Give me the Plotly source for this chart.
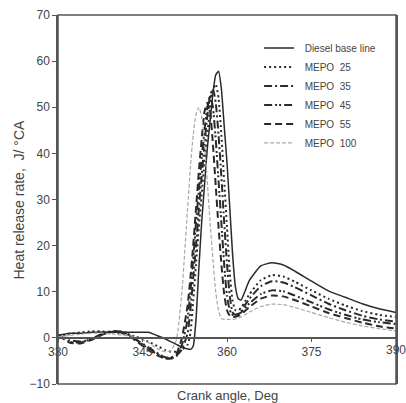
import plotly.graph_objects as go

crank_angle = [330, 332, 334, 336, 338, 340, 342, 344, 346, 348, 349, 350, 351, 352, 353, 353.5,
               354, 354.5, 355, 355.5, 356, 356.5, 357, 357.5, 358, 358.5, 359, 359.5, 360, 360.5,
               361, 361.5, 362, 362.5, 363, 364, 366, 368, 370, 372, 375, 378, 381, 384, 387, 390]

diesel = [0.5, 1.0, 1.0, 1.2, 1.3, 1.2, 1.2, 1.2, 1.2, 0.3, -0.2, -0.8, -1.4, -2.0, -2.4, -2.5,
          -1.8, 4, 15, 25, 33, 41, 47, 53, 57, 57.8, 54, 46, 38, 28,
          18, 11, 8.5, 8.2, 9.5, 12.5, 15.6, 16.3, 15.8, 14.5, 12.3, 10.2, 8.8, 7.4, 6.3, 5.5]

mepo25 = [0.3, 0.8, 1.2, 1.4, 1.4, 1.2, 0.8, 0.2, -0.8, -2.0, -2.6, -3.0, -3.0, -2.6, -1.5, 1,
          8, 16, 24, 31, 38, 44, 50, 54, 55, 52, 44, 34, 24, 14,
          8, 6, 6, 6.5, 7.5, 9.5, 12.5, 13.6, 13.3, 12.2, 10.3, 8.5, 7, 5.8, 5, 4.5]

mepo35 = [0.5, -0.5, -0.8, -0.3, 0.8, 1.4, 1.0, -0.5, -2.0, -3.6, -4.2, -4.3, -3.8, -2.5, 1, 6,
          13, 20, 28, 35, 42, 48, 52.5, 54, 51, 44, 35, 25, 16, 9,
          5.5, 5, 5.2, 5.8, 6.8, 8.5, 11.2, 12.3, 12, 11, 9.2, 7.4, 6, 4.8, 4, 3.5]

mepo45 = [0.8, -0.8, -1.0, -0.2, 1.0, 1.5, 1.2, -0.5, -2.3, -3.8, -4.4, -4.5, -4.0, -1.5, 4, 10,
          17, 25, 32, 39, 45, 50, 52.5, 50, 43, 34, 25, 16, 9, 6,
          5, 5, 5.2, 5.5, 6.2, 7.5, 9.5, 10.3, 10.1, 9.2, 7.7, 6.2, 5, 4, 3.4, 3]

mepo55 = [0.6, -1.0, -1.2, -0.4, 0.8, 1.4, 1.0, -0.8, -2.6, -4.0, -4.5, -4.4, -3.5, 0, 7, 13,
          20, 28, 36, 43, 49, 51, 49, 42, 33, 24, 16, 9.5, 6, 4.8,
          4.5, 4.6, 4.8, 5, 5.6, 6.7, 8.5, 9.2, 9, 8.2, 6.8, 5.4, 4.3, 3.3, 2.5, 2]

mepo100 = [0.2, 0.5, 0.8, 1.0, 1.0, 0.8, 0.5, 0.2, -1.0, -2.6, -3.0, -2.8, -0.5, 10, 28, 37,
           44, 48.5, 50, 48, 42, 34, 25, 17, 10, 6, 4.2, 4, 4, 4,
           4, 4.1, 4.3, 4.5, 4.9, 5.6, 6.8, 7.3, 7.2, 6.6, 5.5, 4.4, 3.4, 2.6, 2, 1.5]

names = ["Diesel base line", "MEPO  25", "MEPO  35", "MEPO  45", "MEPO  55", "MEPO  100"]
x_ticks = [330, 345, 360, 375, 390]
y_ticks = [-10, 0, 10, 20, 30, 40, 50, 60, 70]

series = [diesel, mepo25, mepo35, mepo45, mepo55, mepo100]
styles = [
    dict(color="#2a2a2a", width=1.5, dash="solid"),
    dict(color="#2a2a2a", width=2, dash="2px,3px"),
    dict(color="#2a2a2a", width=2, dash="8px,3px,2px,3px"),
    dict(color="#2a2a2a", width=2, dash="8px,3px,2px,2px,2px,3px"),
    dict(color="#2a2a2a", width=2, dash="7px,4px"),
    dict(color="#a8a8a8", width=1.2, dash="4px,2px"),
]

fig = go.Figure()
for n, s, st in zip(names, series, styles):
    fig.add_trace(go.Scatter(x=crank_angle, y=s, mode="lines", name="\u00a0\u00a0" + n,
                             line=dict(shape="spline", smoothing=0.5, **st)))

fig.update_layout(
    width=406, height=403,
    margin=dict(l=58, r=8, t=15, b=19),
    paper_bgcolor="white", plot_bgcolor="white",
    font=dict(family="Liberation Sans, Arial, sans-serif", color="#333", size=12),
    showlegend=True,
    legend=dict(x=0.595, y=0.95, xanchor="left", yanchor="top",
                bgcolor="rgba(0,0,0,0)", font=dict(size=10, color="#444"),
                tracegroupgap=0),
    xaxis=dict(range=[330, 390], tickvals=x_ticks[:-1],
               anchor="free", position=0.125, showgrid=False, zeroline=False,
               showline=True, linecolor="#555", linewidth=1.5,
               ticks="outside", ticklen=3, tickcolor="#555",
               tickfont=dict(size=12, color="#444")),
    yaxis=dict(range=[-10, 70], tickvals=y_ticks,
               showgrid=False, zeroline=False, showline=True, mirror=True,
               linecolor="#555", linewidth=1.5, ticks="outside", ticklen=4,
               tickcolor="#555", tickfont=dict(size=12, color="#444")),
    shapes=[dict(type="rect", xref="paper", yref="paper", x0=0, x1=1, y0=0, y1=1,
                 line=dict(color="#555", width=1.5))],
    annotations=[
        dict(text=str(x_ticks[-1]), xref="x", yref="y", x=x_ticks[-1], y=0,
             yanchor="top", yshift=-3, showarrow=False, font=dict(size=12, color="#444")),
        dict(text="Crank angle, Deg", xref="paper", yref="paper", x=0.5, y=0,
             xanchor="center", yanchor="top", yshift=-2, showarrow=False,
             font=dict(size=13, color="#444")),
        dict(text="Heat release rate,  J/ °CA", xref="paper", yref="paper", x=0,
             y=0.5, xanchor="center", yanchor="middle", xshift=-40, textangle=-90,
             showarrow=False, font=dict(size=14, color="#444")),
    ],
)

fig.write_html("out.html")
